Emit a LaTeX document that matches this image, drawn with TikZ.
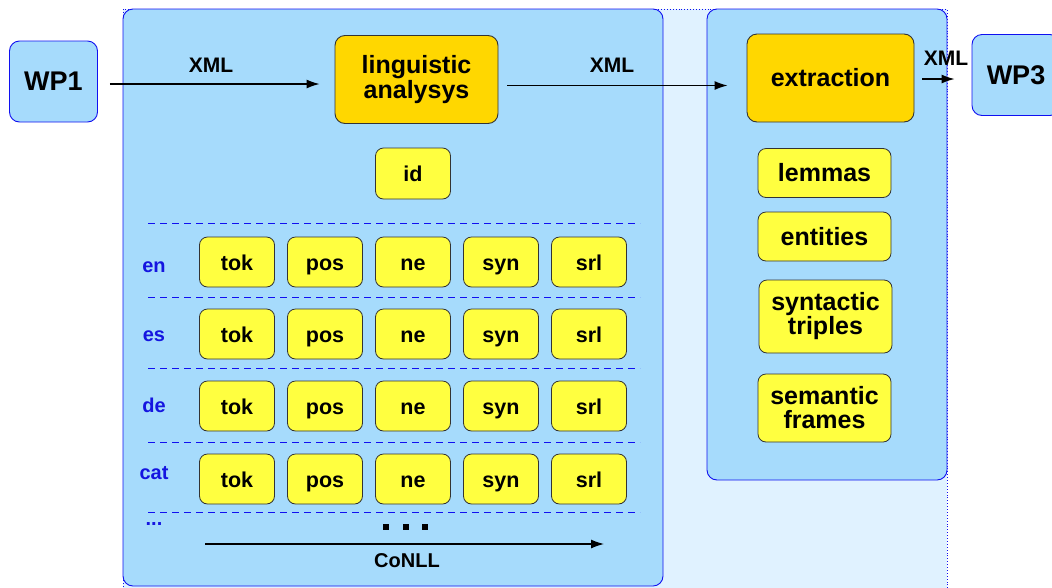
\documentclass[tikz,border=0pt]{standalone}
\usepackage{fontspec}
\setmainfont{Liberation Sans}
\usetikzlibrary{arrows.meta}
\definecolor{bgpale}{HTML}{E0F2FF}
\definecolor{panelblue}{HTML}{A6DBFC}
\definecolor{goldbox}{HTML}{FFD700}
\definecolor{yelbox}{HTML}{FFFF40}
\definecolor{edgeblue}{HTML}{1010F0}
\definecolor{langblue}{HTML}{1515E0}
\begin{document}
\begin{tikzpicture}[x=1pt,y=-1pt,
  wpbox/.style={draw=edgeblue, fill=panelblue, rounded corners=10pt, line width=0.9pt,
    minimum width=88pt, minimum height=81pt, inner sep=0pt,
    font=\fontsize{27}{30}\selectfont\bfseries},
  goldnode/.style={draw=black!80, fill=goldbox, rounded corners=10pt, line width=0.9pt,
    inner sep=0pt, align=center, font=\fontsize{25}{25}\selectfont\bfseries},
  ybox/.style={draw=black!80, fill=yelbox, rounded corners=8pt, line width=0.8pt,
    minimum width=75pt, minimum height=50pt, inner sep=0pt,
    text height=16pt, text depth=0pt,
    font=\fontsize{21.5}{21}\selectfont\bfseries},
  rbox/.style={draw=black!80, fill=yelbox, rounded corners=8pt, line width=0.8pt,
    minimum width=133pt, inner sep=0pt, align=center,
    font=\fontsize{25}{24}\selectfont\bfseries},
  lang/.style={text=langblue, font=\fontsize{20}{20}\selectfont\bfseries},
  lbl/.style={font=\fontsize{21}{21}\selectfont\bfseries},
  arr/.style={line width=1.2pt, -{Latex[length=13pt,width=9pt]}},
  sep/.style={edgeblue, dash pattern=on 7pt off 5pt, line width=0.8pt},
  panel/.style={draw=edgeblue, fill=panelblue, rounded corners=10pt, line width=0.9pt}
]
\useasboundingbox (0,0) rectangle (1052,587);
% pale background with dotted border
\fill[bgpale] (123,9) rectangle (947,600);
\draw[edgeblue, dotted, line width=0.9pt] (123,9) rectangle (947,600);
% panels
\draw[panel] (123,9) rectangle (663,586);
\draw[panel] (707,9) rectangle (947,480);

% outer nodes
\node[wpbox] (wp1) at (53.5,81.5) {WP1};
\node[wpbox] (wp3) at (1016,75) {WP3};

% main nodes
\node[goldnode, minimum width=163pt, minimum height=88pt] (ling) at (416.5,79.5) {linguistic\\analysys};
\node[goldnode, minimum width=167pt, minimum height=88pt] (extr) at (830.5,78) {extraction};

% connectors
\draw[arr] ([xshift=12pt,yshift=-2.5pt]wp1.east) -- ([xshift=-15pt,yshift=-2.5pt]wp1.east -| ling.west);
\node[lbl] (x1) at (211,65) {XML};
\draw[arr] ([xshift=9pt,yshift=-6pt]ling.east) -- ([xshift=-19pt,yshift=-6pt]ling.east -| extr.west);
\node[lbl] (x2) at (612,65) {XML};
\draw[arr] ([xshift=8pt,yshift=-1pt]extr.east) -- ([xshift=-17pt,yshift=-1pt]extr.east -| wp3.west);
\node[lbl] (x3) at (946,58) {XML};

% id
\node[ybox, minimum height=51pt] (id) at (413,173.5) {id};

% separators
\foreach \yy in {223,297,368,442,512}
  \draw[sep] (148,\yy) -- (640,\yy);

% rows
\foreach \rowname/\yy/\lname/\ly in {en/262/en/267, es/334/es/336, de/406/de/405, cat/479/cat/473} {
  \node[lang] (lab-\rowname) at (154,\ly) {\lname};
  \node[ybox] (tok-\rowname) at (237,\yy) {tok};
  \node[ybox] (pos-\rowname) at (325,\yy) {pos};
  \node[ybox] (ne-\rowname)  at (413,\yy) {ne};
  \node[ybox] (syn-\rowname) at (501,\yy) {syn};
  \node[ybox] (srl-\rowname) at (589,\yy) {srl};
}
\node[lang] (lab-more) at (154,524) {...};

% dots
\foreach \xx in {386,406,425}
  \fill (\xx-3,524) rectangle (\xx+3,530);

% CoNLL arrow
\coordinate (c1) at (205,544);
\coordinate (c2) at (604,544);
\draw[arr] (c1) -- (c2);
\node[font=\fontsize{20}{20}\selectfont\bfseries] (conll) at (407,561) {CoNLL};

% right column
\node[rbox, minimum height=49pt] (lem) at (824.5,173) {lemmas};
\node[rbox, minimum height=49pt] (ent) at (824.5,236.5) {entities};
\node[rbox, minimum height=73pt] (syt) at (825.5,316.5) {syntactic\\triples};
\node[rbox, minimum height=68pt] (sem) at (824.5,408) {semantic\\frames};
\end{tikzpicture}
\end{document}
